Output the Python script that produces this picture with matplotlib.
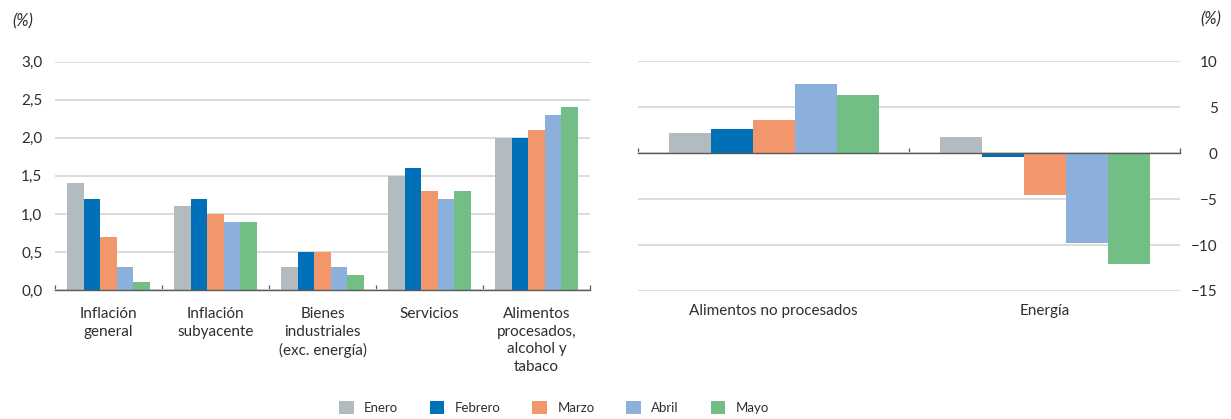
import numpy as np
import matplotlib.pyplot as plt
from matplotlib.patches import Patch
import matplotlib.transforms as mtransforms

# Data
months = ["Enero", "Febrero", "Marzo", "Abril", "Mayo"]
colors = ["#B1BBC0", "#0070B8", "#F2966C", "#8BB0DC", "#72BE84"]

left_cats = ["Inflación\ngeneral", "Inflación\nsubyacente",
             "Bienes\nindustriales\n(exc. energía)", "Servicios",
             "Alimentos\nprocesados,\nalcohol y\ntabaco"]
enero_l = [1.4, 1.1, 0.3, 1.5, 2.0]
febrero_l = [1.2, 1.2, 0.5, 1.6, 2.0]
marzo_l = [0.7, 1.0, 0.5, 1.3, 2.1]
abril_l = [0.3, 0.9, 0.3, 1.2, 2.3]
mayo_l = [0.1, 0.9, 0.2, 1.3, 2.4]

right_cats = ["Alimentos no procesados", "Energía"]
enero_r = [2.2, 1.8]
febrero_r = [2.6, -0.4]
marzo_r = [3.6, -4.5]
abril_r = [7.6, -9.8]
mayo_r = [6.4, -12.1]

left_series = [enero_l, febrero_l, marzo_l, abril_l, mayo_l]
right_series = [enero_r, febrero_r, marzo_r, abril_r, mayo_r]

plt.rcParams['font.family'] = ['Lato', 'DejaVu Sans']
plt.rcParams['font.size'] = 11
text_col = "#2E2E2E"
grid_col = "#D9D9D9"
axis_col = "#595959"

fig = plt.figure(figsize=(12.31, 4.19), dpi=100)
ax1 = fig.add_axes([0.0447, 0.3079, 0.4346, 0.5448])
ax2 = fig.add_axes([0.5183, 0.3055, 0.4403, 0.5478])

bw = 0.155


def draw_bars(ax, cats, series):
    x = np.arange(len(cats))
    for i, (vals, c) in enumerate(zip(series, colors)):
        ax.bar(x + (i - 2) * bw, vals, width=bw, color=c, zorder=3)
    ax.set_xlim(-0.5, len(cats) - 0.5)
    ax.set_xticks(np.arange(-0.5, len(cats)), minor=True)
    ax.tick_params(axis='x', which='minor', direction='in', length=3.5,
                   width=0.9, color=axis_col)
    ax.grid(axis='y', color=grid_col, linewidth=1.3, zorder=0)
    for s in ['top', 'left', 'right']:
        ax.spines[s].set_visible(False)
    ax.spines['bottom'].set_color(axis_col)
    ax.spines['bottom'].set_linewidth(1.0)
    ax.spines['bottom'].set_zorder(4)
    return x


# Left panel
x1 = draw_bars(ax1, left_cats, left_series)
ax1.set_ylim(0, 3.0)
ax1.set_yticks(np.arange(0, 3.01, 0.5))
ax1.set_yticklabels([f"{v:.1f}".replace(".", ",") for v in np.arange(0, 3.01, 0.5)])
ax1.set_xticks(x1)
ax1.set_xticklabels(left_cats, linespacing=1.35)
ax1.tick_params(axis='x', which='major', length=0, pad=12, labelcolor=text_col)
ax1.tick_params(axis='y', length=0, pad=9, labelcolor=text_col)
fig.text(0.010, 0.948, "(%)", style='italic', fontsize=12, color=text_col,
         va='center', ha='left')

# Right panel
x2 = draw_bars(ax2, right_cats, right_series)
ax2.set_ylim(-15, 10)
ax2.set_yticks([10, 5, 0, -5, -10, -15])
ax2.spines['bottom'].set_position(('data', 0))
ax2.set_xticks([])
ax2.yaxis.tick_right()
ax2.tick_params(axis='y', length=0, pad=27, labelcolor=text_col)
for lab in ax2.get_yticklabels():
    lab.set_horizontalalignment('right')
trans = mtransforms.blended_transform_factory(ax2.transData, ax2.transAxes)
for xi, lab in zip(x2, right_cats):
    ax2.text(xi, -0.058, lab, transform=trans, ha='center', va='top',
             color=text_col)
fig.text(0.992, 0.953, "(%)", style='italic', fontsize=12, color=text_col,
         va='center', ha='right')

# Legend
handles = [Patch(facecolor=c, edgecolor='none', label=m) for m, c in zip(months, colors)]
fig.legend(handles=handles, loc='center', bbox_to_anchor=(0.45, 0.027), ncol=5,
           frameon=False, handlelength=1.1, handleheight=1.1, handletextpad=0.8,
           columnspacing=2.4, fontsize=9.5, labelcolor=text_col)

fig.savefig("out.png", dpi=100)
